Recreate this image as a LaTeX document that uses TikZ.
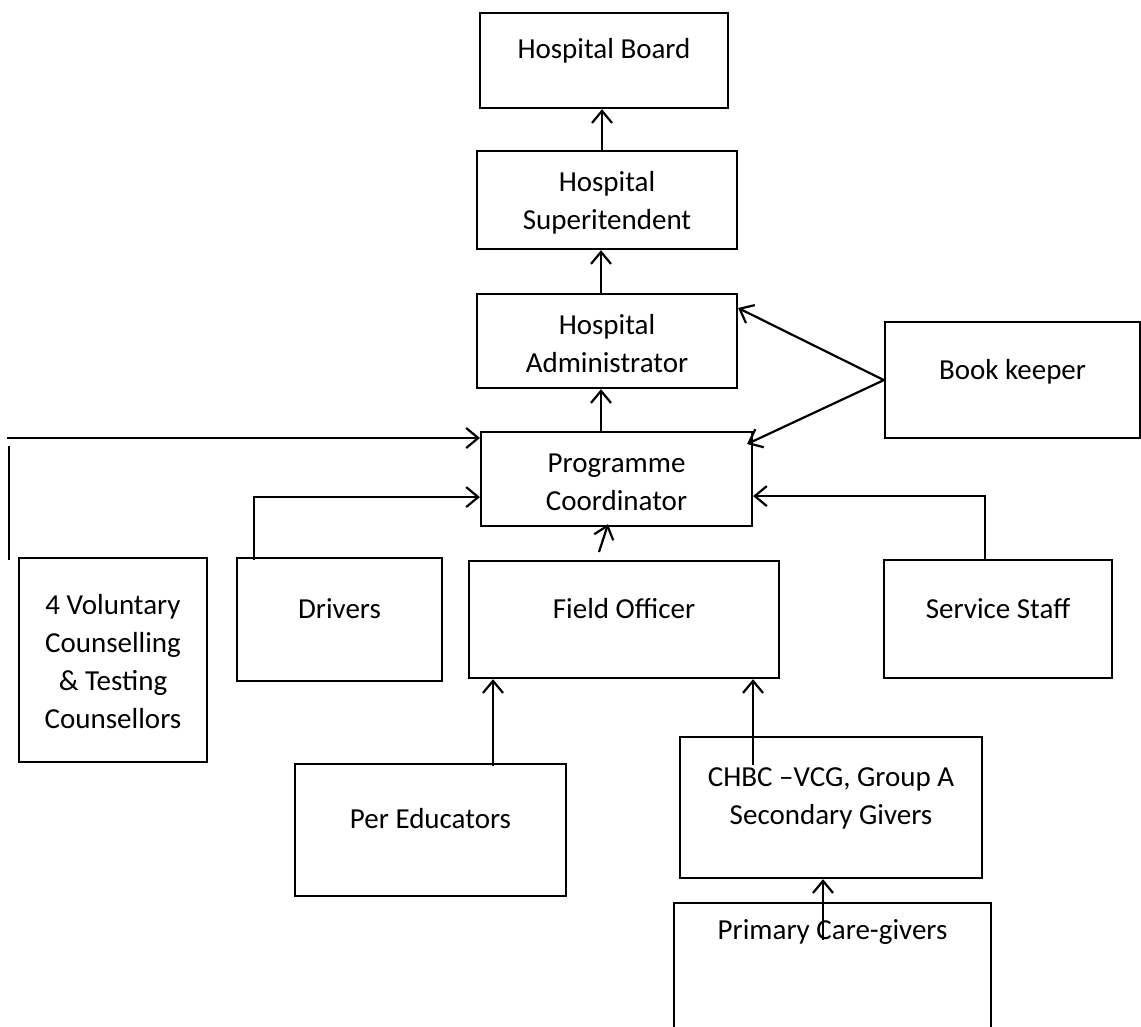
\documentclass[tikz,border=0pt]{standalone}
\usepackage{fontspec}
\setmainfont{Carlito}
\usetikzlibrary{arrows.meta}
\begin{document}
\begin{tikzpicture}[x=1pt,y=-1pt,line width=2.2pt,
  >={Straight Barb[length=12pt,width=20pt]}]
\useasboundingbox (0,0) rectangle (1141,1027);
\begin{scope}[every node/.style={rectangle,draw,anchor=north,align=center,
  inner xsep=0pt,inner ysep=0pt,font=\fontsize{29}{38}\selectfont}]
\node[minimum width=248pt,text height=45pt,text depth=50pt] (Board) at (604,12) {Hospital Board};
\node[minimum width=260pt,text height=78pt,text depth=20pt] (Super) at (607,150) {Hospital\\Superitendent};
\node[minimum width=260pt,text height=78pt,text depth=16pt] (Admin) at (607,293) {Hospital\\Administrator};
\node[minimum width=271pt,text height=78pt,text depth=16pt] (Coord) at (616.5,431) {Programme\\Coordinator};
\node[minimum width=255pt,text height=57pt,text depth=59pt] (Books) at (1012.5,321) {Book keeper};
\node[minimum width=310pt,text height=57pt,text depth=60pt] (Field) at (624,560) {Field Officer};
\node[minimum width=205pt,text height=60pt,text depth=63pt] (Drivers) at (339.5,557) {Drivers};
\node[minimum width=228pt,text height=58pt,text depth=60pt] (Service) at (998,559) {Service Staff};
\node[minimum width=188pt,text height=170pt,text depth=34pt] (VCT) at (113,557) {4 Voluntary\\Counselling\\\& Testing\\Counsellors};
\node[minimum width=271pt,text height=64pt,text depth=68pt] (Peer) at (430.5,763) {Per Educators};
\node[minimum width=302pt,text height=87pt,text depth=54pt] (CHBC) at (831,736) {CHBC --VCG, Group A\\Secondary Givers};
\node[minimum width=317pt,text height=36pt,text depth=164pt] (Primary) at (832.5,902) {Primary Care-givers};
\end{scope}

\coordinate (LeftTop) at (9,446);
\coordinate (LeftBot) at (9,560);
\coordinate (LeftStart) at (7,438);

\begin{scope}[every edge/.style={draw}]
    \path [->] ([xshift=-5pt]Super.north) edge ([xshift=-2pt]Board.south);
    \path [->] ([xshift=-6pt]Admin.north) edge ([xshift=-6pt]Super.south);
    \path [->] ([xshift=-15.5pt]Coord.north) edge ([xshift=-6pt]Admin.south);
    \path [->] (Books.west) edge ([yshift=-15pt]Admin.north east);
    \path [->] (Books.west) edge ([xshift=-6pt,yshift=-13pt]Coord.north east);
    \path [->] ([xshift=-25pt,yshift=8pt]Field.north) edge ([xshift=-8.5pt,yshift=3pt]Coord.south);
    \path [->] ([xshift=62.5pt,yshift=-3pt]Peer.north) edge ([xshift=-131pt]Field.south);
    \path [->] ([xshift=-78pt,yshift=-29pt]CHBC.north) edge ([xshift=129pt]Field.south);
    \path [->] ([xshift=-9.5pt,yshift=-38pt]Primary.north) edge ([xshift=-8pt]CHBC.south);
    \path (LeftBot) edge (LeftTop);
    \path [->] (LeftStart) edge (LeftStart -| Coord.west);
\end{scope}
\draw [->] ([xshift=18pt,yshift=-3pt]Drivers.north west) |- ([yshift=-18pt]Coord.west);
\draw [->] ([xshift=-13pt]Service.north) |- ([yshift=-17pt]Coord.east);
\end{tikzpicture}
\end{document}
